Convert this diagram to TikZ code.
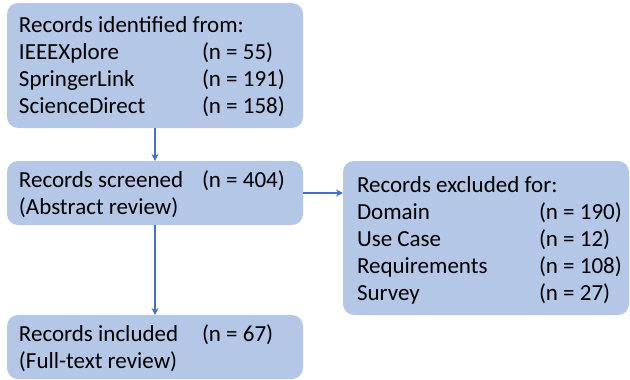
\documentclass[tikz,border=0pt]{standalone}
\usepackage{fontspec}
\setmainfont{Carlito}
\usetikzlibrary{arrows.meta}
\definecolor{boxfill}{HTML}{B4C7E7}
\definecolor{arrowcol}{HTML}{4472C4}
\tikzset{
  box/.style={fill=boxfill, draw=none, rounded corners=11pt, inner sep=0pt, outer sep=0pt, anchor=north west},
  txt/.style={inner sep=0pt, outer sep=0pt, anchor=base west, font=\fontsize{23}{27}\selectfont, text=black},
  conn/.style={draw=arrowcol, line width=1.3pt, -{Stealth[length=7pt,width=7pt]}}
}
\begin{document}
\begin{tikzpicture}[x=1pt,y=-1pt]
\useasboundingbox (0,0) rectangle (630,380);
% boxes
\node[box, minimum width=296pt, minimum height=125pt] (b1) at (7,3) {};
\node[box, minimum width=296pt, minimum height=64pt] (b2) at (7,161) {};
\node[box, minimum width=296pt, minimum height=64pt] (b3) at (7,315) {};
\node[box, minimum width=286pt, minimum height=154pt] (b4) at (343,161) {};
% box 1 text
\node[txt] (t11) at (19,32) {Records identified from:};
\node[txt] (t12) at (19,59) {IEEEXplore};
\node[txt] (n12) at (202,59) {(n = 55)};
\node[txt] (t13) at (19,86) {SpringerLink};
\node[txt] (n13) at (202,86) {(n = 191)};
\node[txt] (t14) at (19,113) {ScienceDirect};
\node[txt] (n14) at (202,113) {(n = 158)};
% box 2 text
\node[txt] (t21) at (19,187) {Records screened};
\node[txt] (n21) at (202,187) {(n = 404)};
\node[txt] (t22) at (19,214) {(Abstract review)};
% box 3 text
\node[txt] (t31) at (19,341) {Records included};
\node[txt] (n31) at (202,341) {(n = 67)};
\node[txt] (t32) at (19,368) {(Full-text review)};
% box 4 text
\node[txt] (t41) at (357,192) {Records excluded for:};
\node[txt] (t42) at (357,219) {Domain};
\node[txt] (n42) at (539,219) {(n = 190)};
\node[txt] (t43) at (357,246) {Use Case};
\node[txt] (n43) at (539,246) {(n = 12)};
\node[txt] (t44) at (357,273) {Requirements};
\node[txt] (n44) at (539,273) {(n = 108)};
\node[txt] (t45) at (357,300) {Survey};
\node[txt] (n45) at (539,300) {(n = 27)};
% connectors
\draw[conn] (b1.south) -- (b2.north);
\draw[conn] (b2.south) -- (b3.north);
\draw[conn] (b2.east) -- (b2.east -| b4.west);
\end{tikzpicture}
\end{document}
